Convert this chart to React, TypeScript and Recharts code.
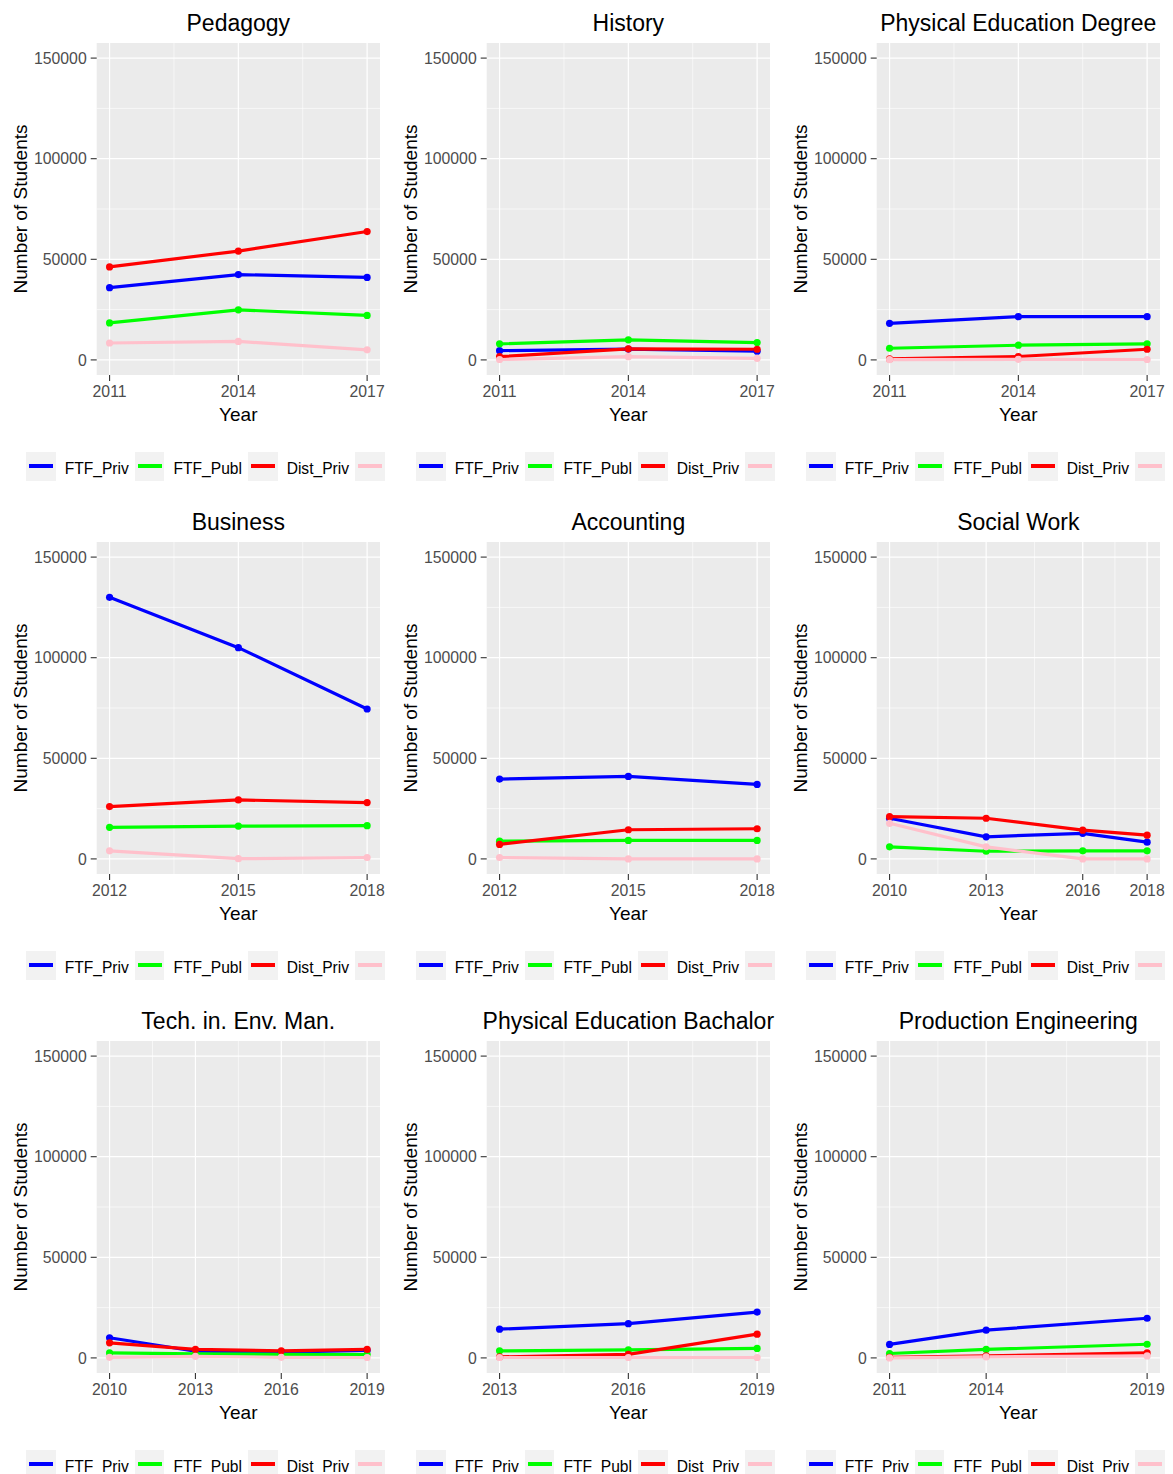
import React from 'react'
import { LineChart, Line, XAxis, YAxis, CartesianGrid } from 'recharts'

const seriesKeys = ['FTF_Priv', 'FTF_Publ', 'Dist_Priv', 'Dist_Publ']
const seriesColors = ['#0000ff', '#00ff00', '#ff0000', '#ffc0cb']
const yTicks = [0, 50000, 100000, 150000]
const yMinor = [25000, 75000, 125000]

// Pedagogy
const pedagogyYears = [2011, 2014, 2017]
const pedagogyFtfPriv = [35900, 42400, 41000]
const pedagogyFtfPubl = [18400, 24900, 22100]
const pedagogyDistPriv = [46200, 54100, 63800]
const pedagogyDistPubl = [8400, 9200, 5000]

// History
const historyYears = [2011, 2014, 2017]
const historyFtfPriv = [4600, 5400, 4300]
const historyFtfPubl = [8000, 10000, 8600]
const historyDistPriv = [1600, 5500, 5300]
const historyDistPubl = [200, 1600, 800]

// Physical Education Degree
const peDegreeYears = [2011, 2014, 2017]
const peDegreeFtfPriv = [18200, 21500, 21500]
const peDegreeFtfPubl = [5800, 7300, 8000]
const peDegreeDistPriv = [500, 1700, 5300]
const peDegreeDistPubl = [100, 300, 200]

// Business
const businessYears = [2012, 2015, 2018]
const businessFtfPriv = [130000, 105000, 74500]
const businessFtfPubl = [15700, 16300, 16500]
const businessDistPriv = [26000, 29300, 28000]
const businessDistPubl = [4000, 100, 700]

// Accounting
const accountingYears = [2012, 2015, 2018]
const accountingFtfPriv = [39700, 41000, 37000]
const accountingFtfPubl = [8800, 9200, 9200]
const accountingDistPriv = [7200, 14500, 15000]
const accountingDistPubl = [700, 0, 0]

// Social Work
const socialYears = [2010, 2013, 2016, 2018]
const socialFtfPriv = [20200, 11000, 12700, 8300]
const socialFtfPubl = [6000, 3800, 4000, 4000]
const socialDistPriv = [21000, 20200, 14300, 11800]
const socialDistPubl = [17700, 6000, 0, 0]

// Tech. in. Env. Man.
const techYears = [2010, 2013, 2016, 2019]
const techFtfPriv = [10000, 3300, 2900, 3700]
const techFtfPubl = [2500, 2000, 1800, 1700]
const techDistPriv = [7500, 4200, 3500, 4200]
const techDistPubl = [300, 800, 300, 200]

// Physical Education Bachalor
const peBachYears = [2013, 2016, 2019]
const peBachFtfPriv = [14300, 17000, 22800]
const peBachFtfPubl = [3500, 4000, 4700]
const peBachDistPriv = [500, 1800, 11800]
const peBachDistPubl = [200, 200, 200]

// Production Engineering
const prodYears = [2011, 2014, 2019]
const prodFtfPriv = [6700, 13800, 19700]
const prodFtfPubl = [2200, 4200, 6800]
const prodDistPriv = [300, 1000, 2500]
const prodDistPubl = [0, 500, 1000]

const panels = [
  { title: 'Pedagogy', years: pedagogyYears, series: [pedagogyFtfPriv, pedagogyFtfPubl, pedagogyDistPriv, pedagogyDistPubl] },
  { title: 'History', years: historyYears, series: [historyFtfPriv, historyFtfPubl, historyDistPriv, historyDistPubl] },
  { title: 'Physical Education Degree', years: peDegreeYears, series: [peDegreeFtfPriv, peDegreeFtfPubl, peDegreeDistPriv, peDegreeDistPubl] },
  { title: 'Business', years: businessYears, series: [businessFtfPriv, businessFtfPubl, businessDistPriv, businessDistPubl] },
  { title: 'Accounting', years: accountingYears, series: [accountingFtfPriv, accountingFtfPubl, accountingDistPriv, accountingDistPubl] },
  { title: 'Social Work', years: socialYears, series: [socialFtfPriv, socialFtfPubl, socialDistPriv, socialDistPubl] },
  { title: 'Tech. in. Env. Man.', years: techYears, series: [techFtfPriv, techFtfPubl, techDistPriv, techDistPubl] },
  { title: 'Physical Education Bachalor', years: peBachYears, series: [peBachFtfPriv, peBachFtfPubl, peBachDistPriv, peBachDistPubl] },
  { title: 'Production Engineering', years: prodYears, series: [prodFtfPriv, prodFtfPubl, prodDistPriv, prodDistPubl] },
]

const FONT = "'Liberation Sans', Arial, sans-serif"
const tickStyle = { fontSize: 15.8, fill: '#4d4d4d', fontFamily: FONT }

function Panel({ title, years, series, left, top }: any) {
  const data = years.map((yr: number, i: number) => {
    const row: any = { year: yr }
    seriesKeys.forEach((k, s) => { row[k] = series[s][i] })
    return row
  })
  const first = years[0]
  const last = years[years.length - 1]
  const pad = (last - first) * 0.05
  const xMinor = years.slice(1).map((yr: number, i: number) => (years[i] + yr) / 2)

  return (
    <div style={{ position: 'absolute', left, top, width: 390, height: 499 }}>
      <LineChart width={390} height={430} data={data}
        margin={{ top: 43, right: 10, bottom: 25, left: 0 }}>
        <CartesianGrid fill="#ebebeb" stroke="#ffffff" strokeWidth={0.6}
          horizontalValues={yMinor} verticalValues={xMinor} />
        <CartesianGrid stroke="#ffffff" strokeWidth={1.2}
          horizontalValues={yTicks} verticalValues={years} />
        <XAxis type="number" dataKey="year" domain={[first - pad, last + pad]}
          ticks={years} interval={0} axisLine={false}
          tickLine={{ stroke: '#333333', strokeWidth: 1.1 }} tickSize={6} tickMargin={5}
          tick={tickStyle} allowDataOverflow />
        <YAxis type="number" domain={[-7500, 157500]} ticks={yTicks} interval={0}
          width={96.7} axisLine={false}
          tickLine={{ stroke: '#333333', strokeWidth: 1.1 }} tickSize={6} tickMargin={4}
          tick={tickStyle} allowDataOverflow />
        {seriesKeys.map((k, s) => (
          <Line key={k} type="linear" dataKey={k} stroke={seriesColors[s]} strokeWidth={3.2}
            dot={{ r: 3.6, fill: seriesColors[s], stroke: seriesColors[s], strokeWidth: 0 }}
            activeDot={false} isAnimationActive={false} />
        ))}
      </LineChart>
      <svg width={390} height={499} style={{ position: 'absolute', left: 0, top: 0, pointerEvents: 'none' }}>
        <text x={238.3} y={30.7} textAnchor="middle" fontSize={23} fontFamily={FONT} fill="#000">{title}</text>
        <text x={238.3} y={420.5} textAnchor="middle" fontSize={19} fontFamily={FONT} fill="#000">Year</text>
        <text transform="translate(26.5,209) rotate(-90)" textAnchor="middle" fontSize={19}
          fontFamily={FONT} fill="#000">Number of Students</text>
      </svg>
      <div style={{
        position: 'absolute', left: 26, top: 451.7, width: 359, height: 29.5,
        overflow: 'hidden', display: 'flex', alignItems: 'center', whiteSpace: 'nowrap',
        fontFamily: FONT, fontSize: 15.6, color: '#000',
      }}>
        {seriesKeys.map((k, s) => (
          <div key={k} style={{ display: 'flex', alignItems: 'center', flexShrink: 0 }}>
            <div style={{
              width: 29.7, height: 29.5, background: '#f2f2f2', flexShrink: 0,
              display: 'flex', alignItems: 'center', justifyContent: 'center',
            }}>
              <div style={{ width: 24, height: 4, background: seriesColors[s] }} />
            </div>
            <span style={{ marginLeft: 9, marginRight: 6, position: 'relative', top: 2, lineHeight: '29px' }}>{k}</span>
          </div>
        ))}
      </div>
    </div>
  )
}

export default function App() {
  return (
    <div style={{ position: 'absolute', left: 0, top: 0, width: 1173, height: 1474, background: '#fff', overflow: 'hidden' }}>
      {panels.map((p, i) => (
        <Panel key={p.title} {...p} left={(i % 3) * 390} top={[0, 499, 998][Math.floor(i / 3)]} />
      ))}
    </div>
  )
}
